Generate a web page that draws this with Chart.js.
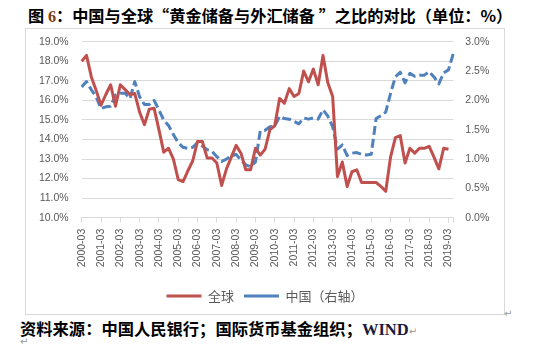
<!DOCTYPE html>
<html lang="zh">
<head>
<meta charset="utf-8">
<title>中国与全球黄金储备与外汇储备之比</title>
<script src="https://cdn.jsdelivr.net/npm/chart.js"></script>
<style>
  body { margin: 0; width: 534px; height: 349px; background: #fff; position: relative; overflow: hidden; }
  #title { position: absolute; left: 28px; top: 3px; font: bold 16.2px "Noto Sans CJK SC", sans-serif; color: #000; white-space: nowrap; }
  #title .num { font-family: "Liberation Serif", serif; color: #7a3a10; }
  #box { position: absolute; left: 25px; top: 28px; width: 480px; height: 287px; box-sizing: border-box; border: 1px solid #d9d9d9; }
  #source { position: absolute; left: 20px; top: 316px; font: bold 16.3px "Noto Sans CJK SC", sans-serif; color: #000; white-space: nowrap; }
  #source .en { font-family: "Liberation Serif", serif; font-size: 16.5px; color: #1a1a40; }
  .mark { font: 10px "DejaVu Sans", sans-serif; color: #999; font-weight: normal; }
  #mark1 { position: absolute; left: 504px; top: 308px; }
  #mark2 { position: absolute; left: 20px; top: 336px; }
</style>
</head>
<body>
<div id="title">图 <span class="num">6</span>：中国与全球“黄金储备与外汇储备 ”之比的对比（单位：%）</div>
<div id="box"><canvas id="myChart" width="478" height="285"></canvas></div>
<div id="source">资料来源：中国人民银行；国际货币基金组织；<span class="en">WIND</span><span class="mark">↵</span></div>
<div id="mark1" class="mark">↵</div>
<div id="mark2" class="mark">↵</div>
<script>
    // quarterly, 2000-03 .. 2019-06
    const years = [];
    for (let y = 2000; y <= 2019; y++) years.push(y);
    const quarters = ['03', '06', '09', '12'];
    const labels = [];
    years.forEach(y => quarters.forEach(q => labels.push(y + '-' + q)));
    labels.length = 78;

    // 全球: gold / FX reserves (%)
    const globalRatio = [
        18.0, 18.3, 17.2, 16.5, 15.75, 16.3, 16.8, 15.7,
        16.8, 16.55, 16.3, 16.35, 15.4, 14.75, 15.55, 15.6,
        14.5, 13.35, 13.55, 13.0, 11.95, 11.85, 12.4, 12.9,
        13.9, 13.9, 13.05, 13.05, 12.8, 11.65, 12.5, 13.1,
        13.7, 13.3, 12.45, 12.45, 13.55, 13.2, 13.5, 14.5,
        14.7, 16.1, 15.85, 16.6, 16.2, 16.35, 17.5, 16.95,
        17.6, 16.8, 18.3, 16.9, 16.2, 12.1, 12.85, 11.6,
        12.35, 12.45, 11.8, 11.8, 11.8, 11.8, 11.6, 11.35,
        13.1, 14.1, 14.2, 12.8, 13.55, 13.3, 13.55, 13.55,
        13.65, 13.1, 12.5, 13.55, 13.5, null
    ];

    // 中国（右轴） (%)
    const chinaRatio = [
        2.23, 2.32, 2.18, 2.06, 1.86, 1.89, 1.90, 2.09,
        2.12, 2.12, 2.03, 2.32, 2.06, 1.93, 1.93, 2.0,
        1.84, 1.66, 1.57, 1.42, 1.28, 1.2, 1.18, 1.2,
        1.28, 1.22, 1.16, 1.13, 1.04, 0.96, 1.0, 1.05,
        1.08, 0.98, 0.9, 0.87, 0.95, 1.48, 1.49, 1.55,
        1.56, 1.73, 1.69, 1.68, 1.64, 1.6, 1.7, 1.68,
        1.7, 1.68, 1.84, 1.73, 1.55, 1.17, 1.24, 1.06,
        1.1, 1.11, 1.08, 1.07, 1.08, 1.69, 1.74, 1.8,
        2.12, 2.4, 2.48, 2.3, 2.46, 2.41, 2.43, 2.43,
        2.49, 2.4, 2.28, 2.47, 2.52, 2.8
    ];

    const grey = '#d9d9d9';
    const textGrey = '#595959';
    const tickFont = { family: 'Liberation Sans', size: 10.5 };

    // fixed axis sizes so the plot area sits where the original one does
    function fixY(width) {
        return s => { s.width = width; s.paddingTop = 0; s.paddingBottom = 0; };
    }

    const ctx = document.getElementById('myChart').getContext('2d');
    new Chart(ctx, {
        type: 'line',
        data: {
            labels: labels,
            datasets: [{
                label: '全球',
                data: globalRatio,
                yAxisID: 'y',
                borderColor: '#C0504D',
                backgroundColor: '#C0504D',
                borderWidth: 3,
                pointRadius: 0,
                tension: 0,
                borderJoinStyle: 'round'
            }, {
                label: '中国（右轴）',
                data: chinaRatio,
                yAxisID: 'y1',
                borderColor: '#4F81BD',
                backgroundColor: '#4F81BD',
                borderWidth: 3,
                borderDash: [9, 4],
                pointRadius: 0,
                tension: 0,
                borderJoinStyle: 'round'
            }]
        },
        options: {
            responsive: false,
            animation: false,
            layout: { padding: { top: 12.7, left: 0, right: 0, bottom: 1.5 } },
            plugins: {
                tooltip: { enabled: false },
                legend: {
                    position: 'bottom',
                    labels: {
                        usePointStyle: true,
                        pointStyle: 'line',
                        pointStyleWidth: 35,
                        color: textGrey,
                        font: { family: 'Noto Sans CJK SC', size: 13 },
                        padding: 10
                    }
                }
            },
            scales: {
                x: {
                    offset: false,
                    grid: {
                        drawOnChartArea: false,
                        tickLength: 5,
                        color: c => (c.index % 4 === 0 || c.index === 77) ? grey : 'rgba(0,0,0,0)'
                    },
                    border: { color: grey },
                    ticks: {
                        autoSkip: false,
                        minRotation: 90,
                        maxRotation: 90,
                        padding: 6,
                        color: textGrey,
                        font: tickFont,
                        callback: function(v, i) { return i % 4 === 0 ? labels[i] : ''; }
                    },
                    afterFit: s => { s.height = 61.8; }
                },
                y: {
                    position: 'left',
                    min: 10, max: 19,
                    ticks: {
                        stepSize: 1,
                        padding: 13,
                        color: textGrey,
                        font: tickFont,
                        callback: v => v.toFixed(1) + '%'
                    },
                    grid: { color: grey, drawTicks: false },
                    border: { display: false },
                    afterFit: fixY(55.7)
                },
                y1: {
                    position: 'right',
                    min: 0, max: 3,
                    ticks: {
                        stepSize: 0.5,
                        padding: 12,
                        color: textGrey,
                        font: tickFont,
                        callback: v => v.toFixed(1) + '%'
                    },
                    grid: { drawOnChartArea: false, drawTicks: false },
                    border: { display: false },
                    afterFit: fixY(50.7)
                }
            }
        }
    });
</script>
</body>
</html>
